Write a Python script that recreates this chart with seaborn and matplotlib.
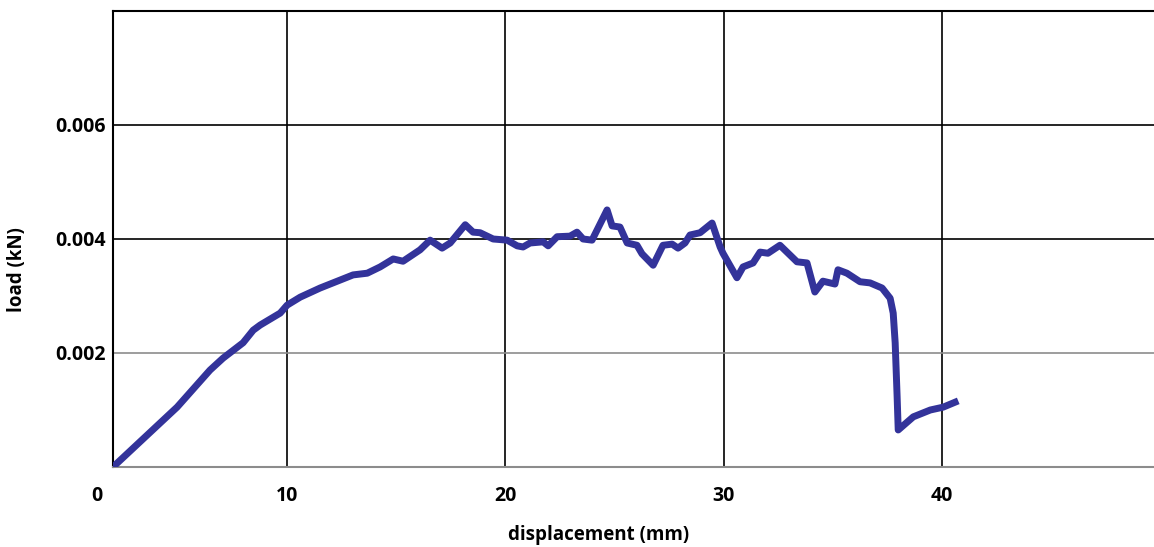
import numpy as np
import pandas as pd
import matplotlib
matplotlib.use("Agg")
import matplotlib.pyplot as plt
from matplotlib.transforms import ScaledTranslation
import seaborn as sns

# ---- data ----
displacement = [0.0, 3.68, 5.57, 6.32, 7.47, 8.05, 8.45, 9.60, 10.0, 10.60, 11.51, 12.43,
                13.02, 13.67, 14.26, 14.86, 15.31, 16.09, 16.55, 17.10, 17.47, 18.16, 18.52,
                18.84, 19.44, 20.08, 20.54, 20.81, 21.13, 21.73, 21.96, 22.37, 22.96, 23.28,
                23.56, 23.97, 24.66, 24.89, 25.25, 25.58, 26.03, 26.26, 26.77, 27.22, 27.64,
                27.91, 28.23, 28.46, 28.92, 29.47, 29.84, 29.97, 30.61, 30.89, 31.35, 31.67,
                32.03, 32.58, 33.36, 33.82, 34.18, 34.55, 35.10, 35.24, 35.65, 36.25, 36.71,
                37.26, 37.63, 37.77, 37.86, 37.95, 38.00, 38.69, 39.47, 40.06, 40.75]
load = [0.0, 0.00105, 0.00170, 0.00191, 0.00218, 0.00240, 0.00249, 0.00270, 0.00284, 0.00298,
        0.00314, 0.00328, 0.00337, 0.00340, 0.00351, 0.00365, 0.00361, 0.00381, 0.00398,
        0.00384, 0.00393, 0.00425, 0.00412, 0.00411, 0.00400, 0.00398, 0.00388, 0.00386,
        0.00393, 0.00395, 0.00388, 0.00404, 0.00405, 0.00412, 0.00400, 0.00398, 0.00451,
        0.00423, 0.00421, 0.00393, 0.00389, 0.00374, 0.00354, 0.00389, 0.00391, 0.00384,
        0.00393, 0.00407, 0.00411, 0.00428, 0.00386, 0.00375, 0.00332, 0.00351, 0.00358,
        0.00377, 0.00375, 0.00389, 0.00360, 0.00358, 0.00307, 0.00326, 0.00321, 0.00346,
        0.00340, 0.00325, 0.00323, 0.00314, 0.00296, 0.00270, 0.00218, 0.00123, 0.00065,
        0.00088, 0.00100, 0.00105, 0.00116]
x_ticks = [0, 10, 20, 30, 40]
x_ticklabels = ["0", "10", "20", "30", "40"]
y_ticks = [0.002, 0.004, 0.006]
y_ticklabels = ["0.002", "0.004", "0.006"]

df = pd.DataFrame({"displacement": displacement, "load": load})

sns.set_style("white")
plt.rcParams["font.family"] = ["Open Sans", "DejaVu Sans"]
plt.rcParams["text.color"] = "black"
plt.rcParams["axes.labelcolor"] = "black"
plt.rcParams["xtick.color"] = "black"
plt.rcParams["ytick.color"] = "black"

fig = plt.figure(figsize=(11.54, 5.47), dpi=100)
ax = fig.add_axes([113 / 1154, 1 - 467 / 547, 1 - 113 / 1154, (467 - 11) / 547])

# the original's first interval (0-10) is drawn narrower than the others
def forward(x):
    x = np.asarray(x, dtype=float)
    return np.where(x < 10, 2.02 + x * 0.798, x)

def inverse(u):
    u = np.asarray(u, dtype=float)
    return np.where(u < 10, (u - 2.02) / 0.798, u)

ax.set_xscale("function", functions=(forward, inverse))

sns.lineplot(data=df, x="displacement", y="load", ax=ax, color="#33339a",
             linewidth=5.0, sort=False, estimator=None, solid_joinstyle="round",
             solid_capstyle="butt", zorder=5)

ax.set_xlim(0, 49.72)
ax.set_ylim(0, 0.008)
ax.set_xticks(x_ticks)
ax.set_xticklabels(x_ticklabels)
ax.set_yticks(y_ticks)
ax.set_yticklabels(y_ticklabels)

for v in x_ticks[1:]:
    ax.axvline(v, color="black", linewidth=1.2, zorder=1)
for v in y_ticks:
    ax.axhline(v, color=("#8c8c8c" if v == 0.002 else "black"),
               linewidth=1.2, zorder=1)

ax.tick_params(axis="both", length=0, labelsize=14, labelcolor="black")
ax.tick_params(axis="x", pad=14)
ax.tick_params(axis="y", pad=5)
for lbl in ax.get_xticklabels() + ax.get_yticklabels():
    lbl.set_fontweight("bold")
# shift the "0" label left like in the original
zero = ax.get_xticklabels()[0]
zero.set_transform(zero.get_transform() + ScaledTranslation(-16 / 100, 0, fig.dpi_scale_trans))

for s in ["left", "top"]:
    ax.spines[s].set_color("black")
    ax.spines[s].set_linewidth(1.5)
ax.spines["bottom"].set_color("#8c8c8c")
ax.spines["bottom"].set_linewidth(1.5)
ax.spines["right"].set_visible(False)

ax.set_xlabel("displacement (mm)", fontsize=13.5, fontweight="bold", color="black")
ax.set_ylabel("load (kN)", fontsize=13.5, fontweight="bold", color="black")
ax.xaxis.set_label_coords((599 - 113) / 1041, (467 - 525) / 456)
ax.yaxis.set_label_coords((27 - 113) / 1041, (467 - 270) / 456)

fig.savefig("out.png", dpi=100)
